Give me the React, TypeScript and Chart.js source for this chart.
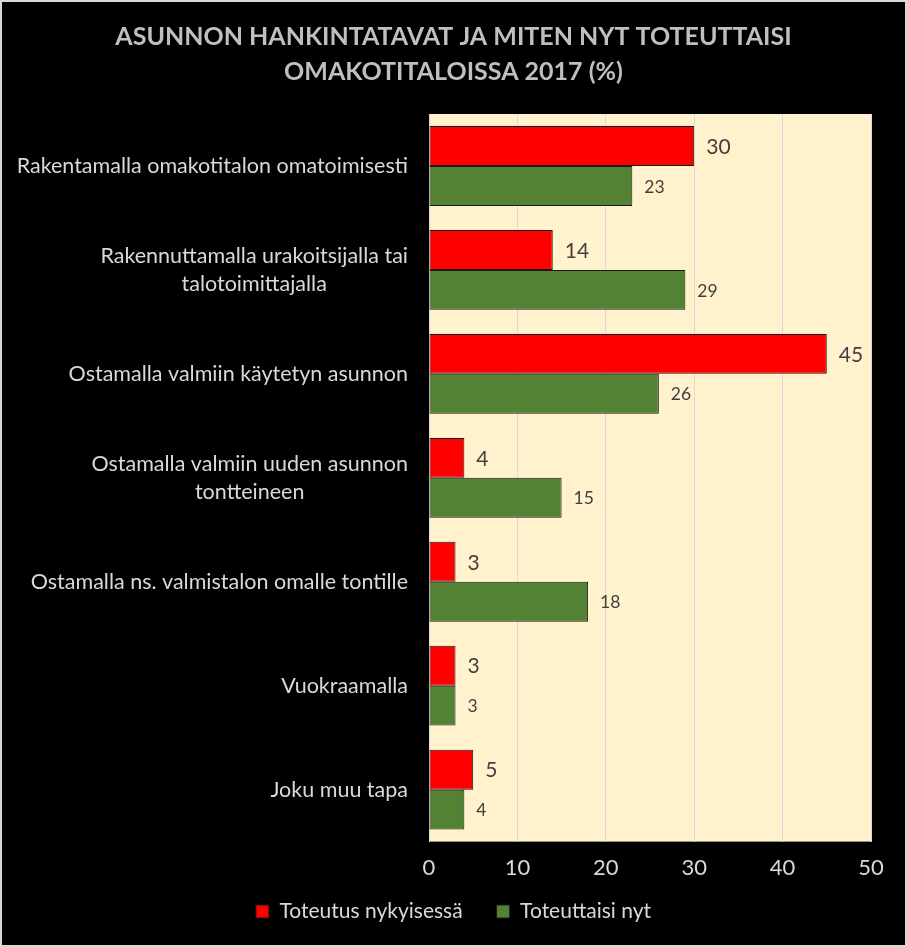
import React, { useEffect, useRef } from "react";
import { Chart, registerables } from "chart.js";

Chart.register(...registerables);

const categories: string[][] = [
  ["Rakentamalla omakotitalon omatoimisesti"],
  ["Rakennuttamalla urakoitsijalla tai", "talotoimittajalla"],
  ["Ostamalla valmiin käytetyn asunnon"],
  ["Ostamalla valmiin uuden asunnon", "tontteineen"],
  ["Ostamalla ns. valmistalon omalle tontille"],
  ["Vuokraamalla"],
  ["Joku muu tapa"],
];
const toteutusNykyisessa = [30, 14, 45, 4, 3, 3, 5];
const toteuttaisiNyt = [23, 29, 26, 15, 18, 3, 4];
const seriesNames = ["Toteutus nykyisessä", "Toteuttaisi nyt"];
const titleLines = ["ASUNNON HANKINTATAVAT JA MITEN NYT TOTEUTTAISI", "OMAKOTITALOISSA 2017 (%)"];

const FONT = "Lato, 'Open Sans', sans-serif";
const TEXT = "#d9d9d9";

const layoutPlugin = {
  id: "layoutPlugin",
  beforeLayout(chart: any) {
    const lg = chart.legend;
    if (lg && !lg.__patched) {
      const orig = lg.fit.bind(lg);
      lg.fit = function () {
        orig();
        this.height -= 16;
      };
      lg.__patched = true;
    }
  },
  afterLayout(chart: any) {
    const lg = chart.legend;
    if (lg) {
      lg.top -= 27;
    }
  },
};

const bgPlugin = {
  id: "bgPlugin",
  beforeDraw(chart: any) {
    const { ctx, chartArea, width, height } = chart;
    ctx.save();
    ctx.fillStyle = "#000000";
    ctx.fillRect(0, 0, width, height);
    ctx.fillStyle = "#fff2cc";
    ctx.fillRect(chartArea.left, chartArea.top, chartArea.right - chartArea.left, chartArea.bottom - chartArea.top);
    ctx.strokeStyle = "#d9d9d9";
    ctx.lineWidth = 2;
    ctx.strokeRect(1, 1, width - 2, height - 2);
    ctx.restore();
  },
};

const catLabelPlugin = {
  id: "catLabelPlugin",
  afterDraw(chart: any) {
    const { ctx } = chart;
    const y = chart.scales.y;
    ctx.save();
    ctx.font = `21.5px ${FONT}`;
    ctx.fillStyle = TEXT;
    ctx.textBaseline = "middle";
    ctx.textAlign = "center";
    const rightX = chart.chartArea.left - 21;
    const lh = 28;
    categories.forEach((lines, i) => {
      const cy = y.getPixelForValue(i);
      const maxW = Math.max(...lines.map((l) => ctx.measureText(l).width));
      const cx = rightX - maxW / 2;
      const y0 = cy - ((lines.length - 1) * lh) / 2;
      lines.forEach((l, j) => ctx.fillText(l, cx, y0 + j * lh));
    });
    ctx.restore();
  },
};

const valueLabelPlugin = {
  id: "valueLabelPlugin",
  afterDatasetsDraw(chart: any) {
    const { ctx } = chart;
    ctx.save();
    ctx.fillStyle = "#404040";
    ctx.textBaseline = "middle";
    ctx.textAlign = "left";
    chart.data.datasets.forEach((ds: any, di: number) => {
      const meta = chart.getDatasetMeta(di);
      ctx.font = di === 0 ? `21px ${FONT}` : `17.5px ${FONT}`;
      meta.data.forEach((el: any, i: number) => {
        ctx.fillText(String(ds.data[i]), el.x + 12, el.y + 1);
      });
    });
    ctx.restore();
  },
};

export default function App() {
  const ref = useRef<HTMLCanvasElement>(null);
  useEffect(() => {
    document.body.style.margin = "0";
    document.body.style.background = "#000";
    const chart = new Chart(ref.current as HTMLCanvasElement, {
      type: "bar",
      data: {
        labels: categories.map((c) => c.join(" ")),
        datasets: [
          {
            label: seriesNames[0],
            data: toteutusNykyisessa,
            backgroundColor: "#ff0000",
            borderColor: "#1a1a1a",
            borderWidth: 1,
            borderSkipped: false,
            barPercentage: 1.0,
            categoryPercentage: 0.768,
          },
          {
            label: seriesNames[1],
            data: toteuttaisiNyt,
            backgroundColor: "#548235",
            borderColor: "#1a1a1a",
            borderWidth: 1,
            borderSkipped: false,
            barPercentage: 1.0,
            categoryPercentage: 0.768,
          },
        ],
      },
      options: {
        indexAxis: "y",
        responsive: false,
        animation: false,
        layout: { padding: { left: 18, right: 18, top: 0, bottom: 4 } },
        scales: {
          x: {
            min: 0,
            max: 50,
            ticks: { stepSize: 10, color: TEXT, font: { family: FONT, size: 22, lineHeight: 1.2 }, padding: 13 },
            grid: { color: "#d9d9d9", drawTicks: false },
            border: { display: false },
          },
          y: {
            ticks: { display: false },
            grid: { display: false },
            border: { display: false },
            afterFit(scale: any) {
              scale.width = 411;
            },
          },
          yRight: {
            type: "category",
            axis: "y",
            position: "right",
            ticks: { display: false },
            grid: { display: false },
            border: { display: false },
            afterFit(scale: any) {
              scale.width = 18;
            },
          },
        },
        plugins: {
          title: {
            display: true,
            text: titleLines,
            color: "#bfbfbf",
            font: { family: FONT, size: 25, weight: "bold", lineHeight: 1.4 },
            padding: { top: 19, bottom: 25 },
          },
          legend: {
            position: "bottom",
            labels: {
              color: TEXT,
              font: { family: FONT, size: 21 },
              boxWidth: 13,
              boxHeight: 13,
              padding: 34,
              useBorderRadius: false,
            },
          },
          tooltip: { enabled: false },
        },
      },
      plugins: [layoutPlugin, bgPlugin, catLabelPlugin, valueLabelPlugin],
    } as any);
    return () => chart.destroy();
  }, []);
  return <canvas ref={ref} width={907} height={947} style={{ display: "block" }} />;
}
